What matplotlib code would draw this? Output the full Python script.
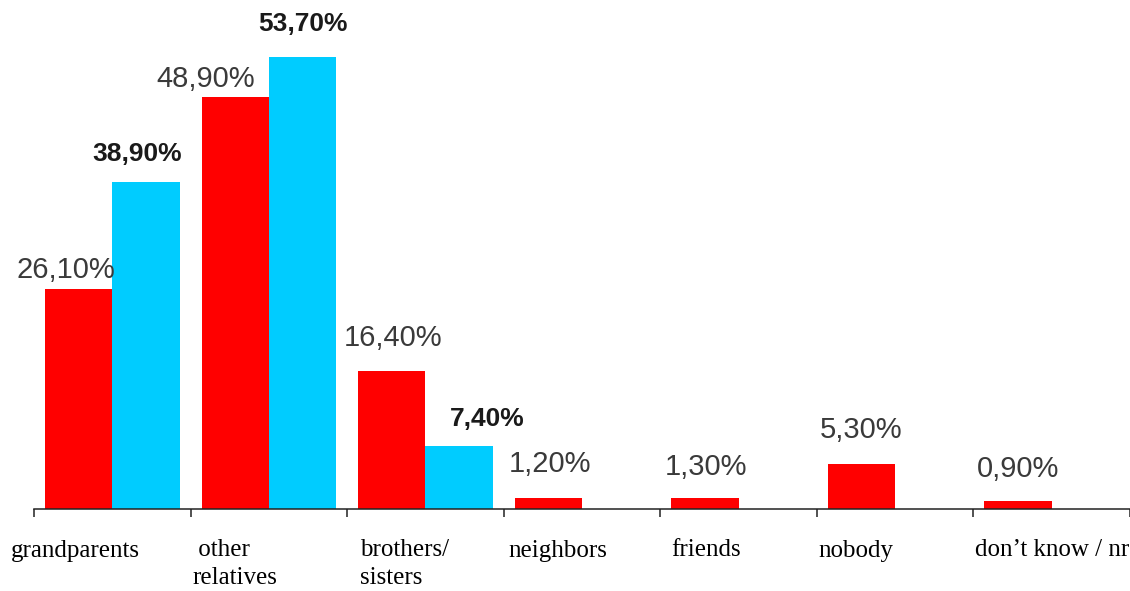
import numpy as np
import matplotlib
matplotlib.use('Agg')
import matplotlib.pyplot as plt

# Quién cuida a los niños: dos series por categoría
categorias = ['grandparents', ' other\nrelatives', 'brothers/\nsisters', 'neighbors',
              'friends', 'nobody', 'don\u2019t know / nr']
serie_roja = [26.1, 48.9, 16.4, 1.2, 1.3, 5.3, 0.9]
serie_azul = [38.9, 53.7, 7.4, 0.0, 0.0, 0.0, 0.0]

# Ajustes de colocación de las etiquetas (en píxeles: dx, altura sobre la barra)
desp_rojo = [(-13, 11), (-30, 10), (1, 25), (2, 26), (1, 23), (0, 26), (0, 24)]
desp_azul = [(-9, 21), (0, 26), (28, 20)]
desp_cat = [-0.15, 0.01, 0.08, 0.03, 0.07, 0.01, 0.01]

ROJO = '#ff0000'
AZUL = '#00ccff'

fig = plt.figure(figsize=(11.3, 5.91), dpi=100)
ax = fig.add_axes([34 / 1130, 82.5 / 591, 1096 / 1130, 508.5 / 591])

x = np.arange(len(categorias))
ancho = 0.43
inicio = 0.07
ax.bar(x + inicio, serie_roja, width=ancho, align='edge', color=ROJO, linewidth=0)
ax.bar(x + inicio + ancho, serie_azul, width=ancho, align='edge', color=AZUL, linewidth=0)

pt = 0.72  # px -> puntos a 100 dpi

for i, v in enumerate(serie_roja):
    dx, dy = desp_rojo[i]
    ax.annotate(f'{v:.2f}%'.replace('.', ','), xy=(x[i] + inicio + ancho / 2, v),
                xytext=(dx * pt, dy * pt), textcoords='offset points',
                ha='center', va='baseline', fontsize=21, family='Liberation Sans',
                color='#3a3a3a')

for i, v in enumerate(serie_azul):
    if v <= 0:
        continue
    dx, dy = desp_azul[i]
    ax.annotate(f'{v:.2f}%'.replace('.', ','), xy=(x[i] + inicio + 1.5 * ancho, v),
                xytext=(dx * pt, dy * pt), textcoords='offset points',
                ha='center', va='baseline', fontsize=19, fontweight='bold',
                family='Liberation Sans', color='#1a1a1a')

# Etiquetas de categoría debajo del eje
for i, nombre in enumerate(categorias):
    ax.annotate(nombre, xy=(x[i] + desp_cat[i], 0), xycoords=('data', 'data'),
                xytext=(0, -31 * pt), textcoords='offset points',
                ha='left', va='top', fontsize=18, family='Liberation Serif',
                color='black', linespacing=1.3)

ax.set_xlim(0, 1096 / 158.2)
ax.set_ylim(0, 60.5)
ax.set_xticks(np.arange(len(categorias) + 1))
ax.set_xticklabels([])
ax.set_yticks([])
ax.tick_params(axis='x', direction='out', length=6, width=1.1, color='#222222')
for lado in ['top', 'right', 'left']:
    ax.spines[lado].set_visible(False)
ax.spines['bottom'].set_linewidth(1.1)
ax.spines['bottom'].set_color('#222222')
ax.patch.set_alpha(0)

fig.savefig('out.png', dpi=100)
